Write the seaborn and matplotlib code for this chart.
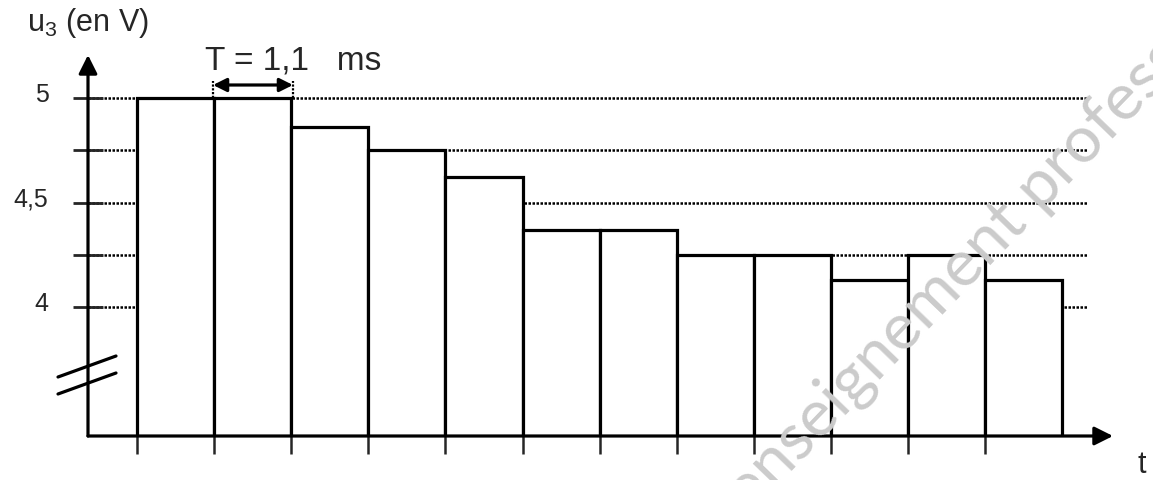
import matplotlib
matplotlib.use("Agg")
import matplotlib.pyplot as plt
import matplotlib.transforms as mtransforms
from matplotlib.lines import Line2D
import numpy as np
import seaborn as sns

# data (u3 in V, one bar per period T)
periods = [str(i) for i in range(1, 13)]
u3_values = [5.0, 5.0, 4.86, 4.75, 4.62, 4.37, 4.37, 4.25, 4.25, 4.13, 4.25, 4.13]
tick_values = [5.0, 4.75, 4.5, 4.25, 4.0]
tick_labels = ["5", "", "4,5", "", "4"]

sns.set_style("white")
plt.rcParams["font.family"] = ["Liberation Sans", "DejaVu Sans"]
plt.rcParams["mathtext.fontset"] = "custom"
plt.rcParams["mathtext.rm"] = "Liberation Sans"

W, H = 1153, 481


def px(x, y):
    # reference pixel -> figure fraction
    return (x / W, 1 - y / H)


# pixel layout of the reference
y5_px, px_per_volt = 99, 209
base_px = 437
x0_px, bar_px = 137, 77.1

fig = plt.figure(figsize=(W / 100, H / 100), dpi=100)
ax = fig.add_axes([0, (H - base_px) / H, 1, base_px / H])

sns.barplot(x=periods, y=u3_values, order=periods, color="white", saturation=1,
            edgecolor="black", linewidth=2.3, width=1, errorbar=None, ax=ax, zorder=2)

ax.set_ylim(5 - (base_px - y5_px) / px_per_volt, 5 + y5_px / px_per_volt)
ax.set_xlim((0 - x0_px) / bar_px - 0.5, (W - x0_px) / bar_px - 0.5)
ax.set_xlabel("")
ax.set_ylabel("")

for s in ax.spines.values():
    s.set_visible(False)
ax.spines["left"].set_position(("data", (88 - x0_px) / bar_px - 0.5))

ax.set_xticks(np.arange(len(periods)) - 0.5, labels=[""] * len(periods))
ax.tick_params(axis="x", direction="out", length=13, width=1.8, bottom=True)
ax.set_yticks(tick_values, labels=tick_labels)
ax.tick_params(axis="y", direction="inout", length=21, width=2.0, left=True,
               labelsize=18, pad=18)
for lab in ax.get_yticklabels():
    lab.set_transform(lab.get_transform() +
                      mtransforms.ScaledTranslation(0, 5 / 72, fig.dpi_scale_trans))

# dotted level lines behind the bars
for v in tick_values:
    ax.axhline(v, xmin=88 / W, xmax=1088 / W, color="black", lw=1.8,
               ls=(0, (1, 0.6)), zorder=0.5)

# axes with arrows
arrow = dict(arrowstyle="-|>", lw=2.3, color="black", mutation_scale=28,
             shrinkA=0, shrinkB=0)
fig.add_artist(matplotlib.patches.FancyArrowPatch(px(88, base_px), px(1113, base_px),
                                                  transform=fig.transFigure, **arrow))
fig.add_artist(matplotlib.patches.FancyArrowPatch(px(88, base_px), px(88, 56),
                                                  transform=fig.transFigure, **arrow))

# axis break marks
for dy in (0, 17):
    fig.add_artist(Line2D([58 / W, 116 / W], [1 - (378 + dy) / H, 1 - (357 + dy) / H],
                          transform=fig.transFigure, color="black", lw=2.3))

# period T marker
for xp in (213, 293):
    fig.add_artist(Line2D([xp / W, xp / W], [1 - 99 / H, 1 - 82 / H],
                          transform=fig.transFigure, color="black", lw=1.6,
                          ls=(0, (1, 0.7))))
fig.add_artist(matplotlib.patches.FancyArrowPatch(px(213, 86), px(293, 86),
                                                  transform=fig.transFigure,
                                                  arrowstyle="<|-|>", lw=2.3, color="black",
                                                  mutation_scale=20, shrinkA=0, shrinkB=0))
fig.text(*px(205, 70), "T = 1,1   ms", fontsize=24, ha="left", va="baseline")

fig.text(*px(27, 31), r"u$_\mathregular{3}$ (en V)", fontsize=22, ha="left", va="baseline")
fig.text(*px(1138, 473), "t", fontsize=22, ha="left", va="baseline")

# watermark
fig.text(*px(750, 514), "enseignement professionnel", fontsize=47, color="#cbcbcb",
         family=["Lato", "DejaVu Sans"], rotation=46,
         rotation_mode="anchor", ha="left", va="baseline", zorder=10)

fig.savefig("out.png", dpi=100)
